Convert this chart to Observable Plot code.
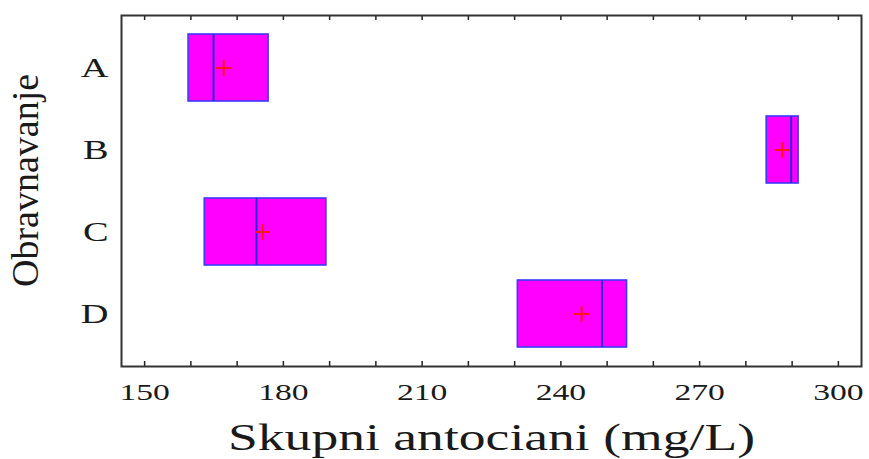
<!DOCTYPE html>
<html><head><meta charset="utf-8">
<script src="https://cdn.jsdelivr.net/npm/d3@7"></script>
<script src="https://cdn.jsdelivr.net/npm/@observablehq/plot@0.6"></script>
<style>html,body{margin:0;padding:0;background:#fff} svg{display:block}</style>
</head><body><div id="chart"></div>
<script>
const categories = ["A", "B", "C", "D"];
const q1 = [159.5, 284.5, 163.0, 230.7];
const q3 = [176.8, 291.4, 189.3, 254.3];
const medians = [164.9, 289.8, 174.2, 248.9];
const means = [167.1, 287.9, 175.5, 244.5];
const xTicks = [150, 180, 210, 240, 270, 300];
const minorTicks = [150, 160, 170, 180, 190, 200, 210, 220, 230, 240, 250, 260, 270, 280, 290, 300];
const xTitle = "Skupni antociani (mg/L)";
const yTitle = "Obravnavanje";

const data = categories.map((c, i) => ({cat: c, q1: q1[i], q3: q3[i], median: medians[i], mean: means[i]}));
const W = 869, H = 459, mT = 15, mB = 93, mL = 121, mR = 8;
const frameH = H - mT - mB;
const font = "'Liberation Serif', 'Times New Roman', serif";

const chart = Plot.plot({
  width: W, height: H, marginLeft: mL, marginRight: mR, marginTop: mT, marginBottom: mB,
  style: {fontFamily: font, background: "#fff", color: "#1a1a1a"},
  x: {domain: [145, 305]},
  y: {type: "band", domain: categories, paddingInner: 0.186, paddingOuter: 0.225},
  marks: [
    Plot.barX(data, {x1: "q1", x2: "q3", y: "cat", fill: "#ff00ff", stroke: "#3a3aff", strokeWidth: 1.6}),
    Plot.tickX(data, {x: "median", y: "cat", stroke: "#2a2ad8", strokeWidth: 2}),
    Plot.dot(data, {x: "mean", y: "cat", symbol: "plus", r: 5, stroke: "#ff1515", strokeWidth: 2}),
    Plot.ruleX(minorTicks, {x: d => d, insetTop: frameH - 5, stroke: "#222", strokeWidth: 1.5}),
    Plot.ruleX(minorTicks, {x: d => d, insetBottom: frameH - 5, stroke: "#222", strokeWidth: 1.5}),
    Plot.frame({stroke: "#333", strokeWidth: 2}),
    Plot.axisX({ticks: xTicks, tickSize: 0, tickPadding: 16, fontSize: 24, label: null}),
    Plot.axisY({tickSize: 0, tickPadding: 13, fontSize: 27, label: null}),
    Plot.text([xTitle], {text: d => d, frameAnchor: "bottom", dy: 71.5, fontSize: 37, lineAnchor: "middle", textAnchor: "middle", fill: "#1a1a1a"}),
    Plot.text([yTitle], {text: d => d, frameAnchor: "left", rotate: -90, dx: -96, dy: -10.5, fontSize: 38, lineAnchor: "middle", textAnchor: "middle", fill: "#1a1a1a"})
  ]
});
document.getElementById("chart").append(chart);

function stretch(sel, factor) {
  d3.select(chart).selectAll(sel).each(function() {
    const L = this.getComputedTextLength();
    this.setAttribute("textLength", (L * factor).toFixed(1));
    this.setAttribute("lengthAdjust", "spacingAndGlyphs");
  });
}
stretch('g[aria-label="x-axis tick label"] text', 1.4);
stretch('g[aria-label="y-axis tick label"] text', 1.42);
d3.select(chart).selectAll("text").each(function() {
  if (this.textContent === xTitle) {
    this.setAttribute("textLength", 527);
    this.setAttribute("lengthAdjust", "spacingAndGlyphs");
  }
});
</script>
</body></html>
